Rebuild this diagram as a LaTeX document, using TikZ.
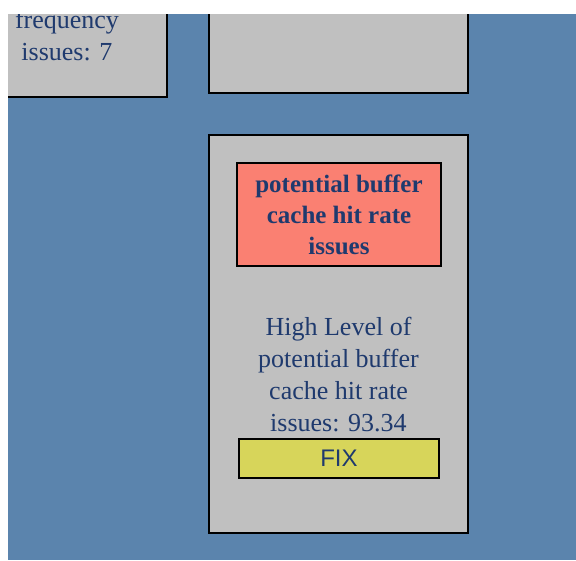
\documentclass[tikz,border=0pt]{standalone}
\usepackage{fontspec}
\setmainfont{Liberation Serif}
\newfontfamily\fixfont{Liberation Sans}
\definecolor{bgblue}{HTML}{5B84AD}
\definecolor{panelgray}{HTML}{C0C0C0}
\definecolor{salmonred}{HTML}{FA8072}
\definecolor{fixyellow}{HTML}{D7D55A}
\definecolor{navytext}{HTML}{1F3A6E}
\begin{document}
\begin{tikzpicture}[x=1pt,y=-1pt,
  panel/.style={draw=black, line width=1.5pt, fill=panelgray, inner sep=0pt, outer sep=0pt},
  alertbox/.style={draw=black, line width=1.5pt, fill=salmonred, inner sep=0pt, outer sep=0pt,
    text=navytext, align=center, font=\fontsize{25}{31}\selectfont\bfseries},
  fixbox/.style={draw=black, line width=1.5pt, fill=fixyellow, inner sep=0pt, outer sep=0pt,
    text=navytext, font=\fixfont\fontsize{24}{28}\selectfont},
  desc/.style={text=navytext, align=center, inner sep=0pt, font=\fontsize{26}{32}\selectfont}
]
\useasboundingbox (0,0) rectangle (576,560);
\fill[white] (0,0) rectangle (576,560);
\fill[bgblue] (8,14) rectangle (576,560);
\begin{scope}
\clip (8,14) rectangle (576,560);
\node[panel, anchor=south east, minimum width=200pt, minimum height=150pt] (left) at (167,97) {};
\node[desc, anchor=base] (lefttext) at (67,60) {frequency\\issues: 7};
\node[panel, anchor=south west, minimum width=259pt, minimum height=150pt] (top) at (209,93) {};
\node[panel, anchor=north west, minimum width=259pt, minimum height=398pt] (main) at (209,135) {};
\node[alertbox, anchor=north west, minimum width=204pt, minimum height=103pt] (alert) at (237,163)
  {potential buffer\\cache hit rate\\issues};
\node[desc, anchor=base] (maintext) at (338.5,431)
  {High Level of\\potential buffer\\cache hit rate\\issues: 93.34};
\node[fixbox, anchor=north west, minimum width=200pt, minimum height=39pt] (fix) at (239,439) {FIX};
\end{scope}
\end{tikzpicture}
\end{document}
